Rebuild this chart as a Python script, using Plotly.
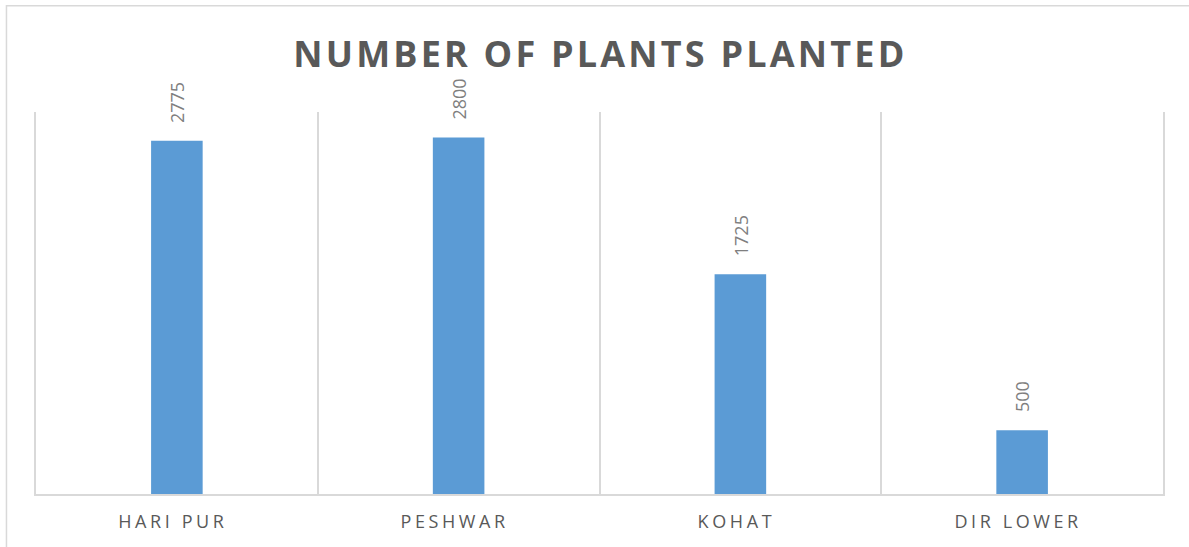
import plotly.graph_objects as go

categories = ["HARI PUR", "PESHWAR", "KOHAT", "DIR LOWER"]
values = [2775, 2800, 1725, 500]
title_text = "NUMBER OF PLANTS PLANTED"

fig = go.Figure()
fig.add_trace(go.Bar(
    x=categories, y=values,
    marker=dict(color="#5B9BD5", line=dict(width=0)),
    hoverinfo="x+y",
))

for c, v in zip(categories, values):
    fig.add_annotation(
        x=c, y=v, text=str(v), textangle=-90, showarrow=False,
        xanchor="center", yanchor="bottom", yshift=16,
        font=dict(family="Open Sans", size=18, color="#7F7F7F"),
    )

fig.add_shape(
    type="rect", xref="paper", yref="paper",
    x0=-0.0262, x1=1.2, y0=-0.5, y1=1.278,
    line=dict(color="#D9D9D9", width=1.5), fillcolor="rgba(0,0,0,0)",
    layer="below",
)

fig.update_layout(
    width=1189, height=547,
    margin=dict(l=36, r=26, t=112, b=53),
    paper_bgcolor="white", plot_bgcolor="white",
    bargap=0.817,
    showlegend=False,
    title=dict(
        text=title_text, x=0.505, xanchor="center", y=0.9, yanchor="middle",
        yref="container",
        font=dict(family="Open Sans", size=36, color="#595959", weight="bold"),
    ),
    xaxis=dict(
        tickson="boundaries", showgrid=True, gridcolor="#D9D9D9", gridwidth=1.5,
        showline=True, linecolor="#D9D9D9", linewidth=1.5,
        ticks="", tickfont=dict(family="Open Sans", size=18, color="#595959"),
        ticklabelstandoff=11, ticklabelshift=-4,
    ),
    yaxis=dict(
        range=[0, 3000], showgrid=False, showticklabels=False, zeroline=False,
        showline=True, mirror=True, linecolor="#D9D9D9", linewidth=1.5,
        fixedrange=True,
    ),
)

post = """
document.body.style.margin = '0';
function spaceText(){
  var gd = document.getElementById('{plot_id}');
  gd.querySelectorAll('text.gtitle').forEach(function(e){ e.style.letterSpacing = '3.2px'; });
  gd.querySelectorAll('g.xtick text').forEach(function(e){ e.style.letterSpacing = '3.6px'; });
}
spaceText();
document.getElementById('{plot_id}').on('plotly_afterplot', spaceText);
"""

fig.write_html("out.html", post_script=post, config={"displayModeBar": False})
